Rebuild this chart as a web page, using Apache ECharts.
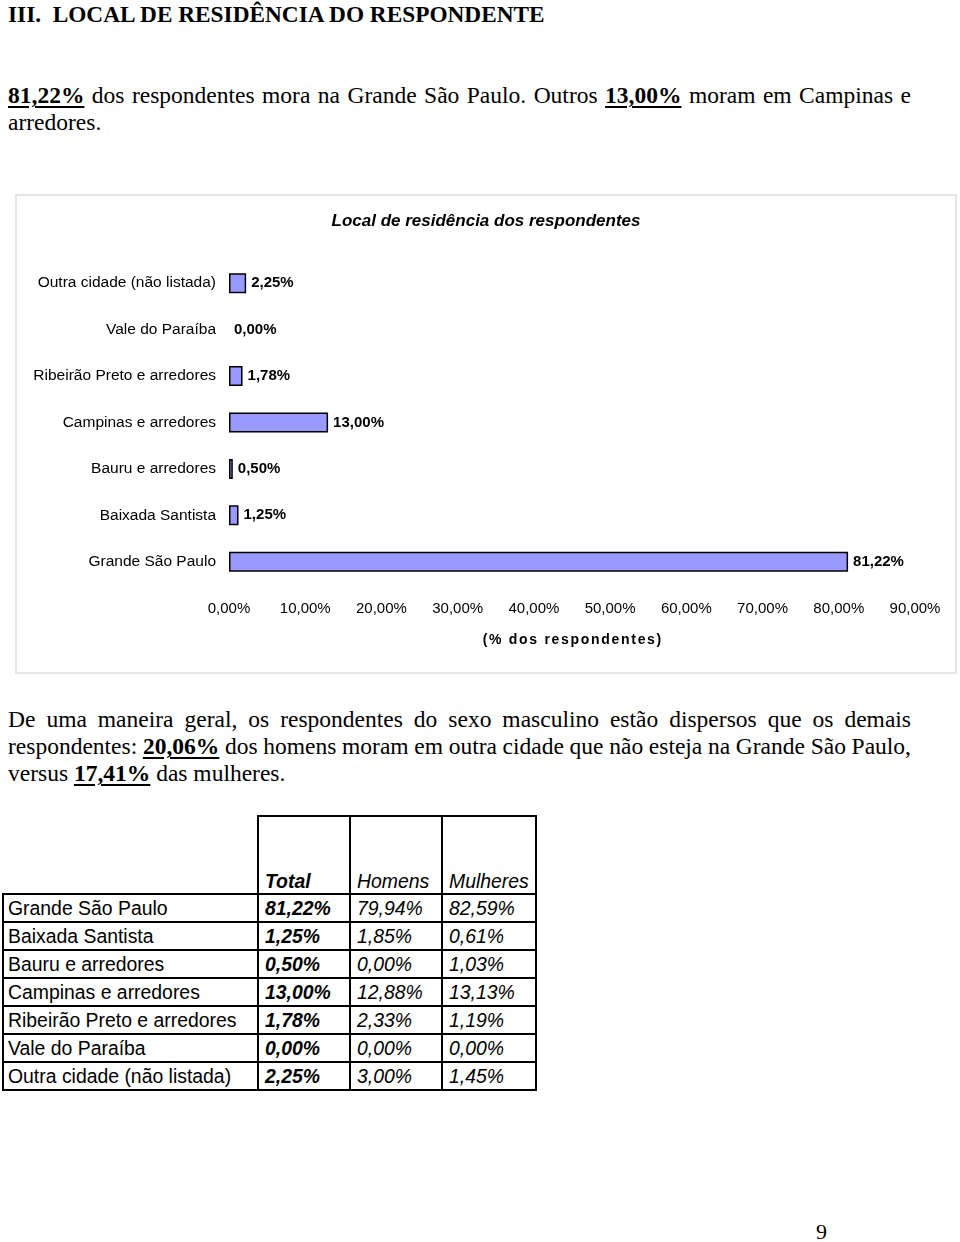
<!DOCTYPE html>
<html>
<head>
<meta charset="utf-8">
<script src="https://cdn.jsdelivr.net/npm/echarts@6/dist/echarts.min.js"></script>
<style>
  html, body { margin: 0; padding: 0; background: #fff; }
  body { width: 960px; height: 1242px; position: relative; overflow: hidden; }
  .serif { font-family: "Liberation Serif", "Times New Roman", serif; color: #000; }
  #h1 { position: absolute; left: 8px; top: 1px; font-size: 23.3px; font-weight: bold; line-height: 27px; white-space: pre; }
  .para { position: absolute; left: 8px; width: 903px; font-size: 23.5px; line-height: 27px; }
  .j { text-align: justify; text-align-last: justify; white-space: nowrap; }
  .para b { text-decoration: underline; text-underline-offset: 3px; }
  #p1 { top: 82px; }
  #p2 { top: 706px; }
  #box { position: absolute; left: 15px; top: 194px; width: 938px; height: 476px; border: 2px solid #e6e6e6; }
  #chart { width: 938px; height: 476px; }
  #tbl { position: absolute; left: 2px; top: 815px; border-collapse: collapse; font-family: "Liberation Sans", Arial, sans-serif; font-size: 19.4px; color: #000; }
  #tbl td { border: 2px solid #000; height: 26px; line-height: 26px; white-space: nowrap; overflow: hidden; }
  #tbl tr.hd td { height: 76px; vertical-align: bottom; line-height: 24px; font-style: italic; }
  #tbl tr.hd td.blank { border-top: none; border-left: none; }
  #tbl td.c0 { width: 245px; padding: 0 4px 0 4px; }
  #tbl td.c1 { width: 82px; padding: 0 2px 0 6px; font-weight: bold; font-style: italic; }
  #tbl td.c2 { width: 82px; padding: 0 2px 0 6px; font-style: italic; }
  #tbl td.c3 { width: 84px; padding: 0 2px 0 6px; font-style: italic; }
  #pg { position: absolute; left: 816px; top: 1218px; font-size: 22px; line-height: 27px; }
</style>
</head>
<body>
<div id="h1" class="serif">III.  LOCAL DE RESIDÊNCIA DO RESPONDENTE</div>
<div id="p1" class="para serif">
  <div class="j"><b>81,22%</b> dos respondentes mora na Grande São Paulo. Outros <b>13,00%</b> moram em Campinas e</div>
  <div>arredores.</div>
</div>
<div id="box"><div id="chart"></div></div>
<div id="p2" class="para serif">
  <div class="j">De uma maneira geral, os respondentes do sexo masculino estão dispersos que os demais</div>
  <div class="j">respondentes: <b>20,06%</b> dos homens moram em outra cidade que não esteja na Grande São Paulo,</div>
  <div>versus <b>17,41%</b> das mulheres.</div>
</div>
<table id="tbl"></table>
<div id="pg" class="serif">9</div>
<script>
// ---- data ----
var categories = ["Grande São Paulo", "Baixada Santista", "Bauru e arredores", "Campinas e arredores", "Ribeirão Preto e arredores", "Vale do Paraíba", "Outra cidade (não listada)"];
var totalValues = [81.22, 1.25, 0.50, 13.00, 1.78, 0.00, 2.25];
var homensValues = [79.94, 1.85, 0.00, 12.88, 2.33, 0.00, 3.00];
var mulheresValues = [82.59, 0.61, 1.03, 13.13, 1.19, 0.00, 1.45];
var tableHeaders = ["Total", "Homens", "Mulheres"];
var chartTitle = "Local de residência dos respondentes";
var xAxisName = "(% dos respondentes)";

function pct(v) { return Number(v).toFixed(2).replace('.', ',') + '%'; }

// ---- fit justified lines that are naturally wider than the column ----
(function () {
  var lines = document.querySelectorAll('.j');
  for (var i = 0; i < lines.length; i++) {
    var el = lines[i];
    var probe = document.createElement('span');
    probe.innerHTML = el.innerHTML;
    probe.style.whiteSpace = 'nowrap';
    probe.style.visibility = 'hidden';
    probe.style.position = 'absolute';
    el.parentNode.appendChild(probe);
    var w = probe.getBoundingClientRect().width;
    el.parentNode.removeChild(probe);
    var target = el.getBoundingClientRect().width;
    if (w > target) {
      var spaces = (el.textContent.trim().match(/ +/g) || []).length || 1;
      el.style.wordSpacing = (-(w - target) / spaces - 0.2) + 'px';
    }
  }
})();

// ---- table ----
(function () {
  var t = document.getElementById('tbl');
  var h = '<tr class="hd"><td class="c0 blank"></td>';
  h += '<td class="c1">' + tableHeaders[0] + '</td><td class="c2">' + tableHeaders[1] + '</td><td class="c3">' + tableHeaders[2] + '</td></tr>';
  for (var i = 0; i < categories.length; i++) {
    h += '<tr><td class="c0">' + categories[i] + '</td><td class="c1">' + pct(totalValues[i]) + '</td><td class="c2">' + pct(homensValues[i]) + '</td><td class="c3">' + pct(mulheresValues[i]) + '</td></tr>';
  }
  t.innerHTML = h;
})();

// ---- chart ----
var chart = echarts.init(document.getElementById('chart'), null, { renderer: 'canvas' });
var F = '"Liberation Sans", Arial, sans-serif';
var spacedName = xAxisName.split('').map(function (ch) { return '{c|' + ch + '}'; }).join('');
chart.setOption({
  animation: false,
  backgroundColor: '#fff',
  title: {
    text: chartTitle, left: 'center', top: 12,
    textStyle: { fontFamily: F, fontSize: 17, fontWeight: 'bold', fontStyle: 'italic', color: '#000' }
  },
  grid: { left: 212, top: 64, width: 686, height: 325, containLabel: false },
  xAxis: {
    type: 'value', min: 0, max: 90, interval: 10,
    name: spacedName, nameLocation: 'middle', nameGap: 48,
    nameTextStyle: {
      fontFamily: F, fontSize: 14, fontWeight: 'bold', color: '#000',
      rich: { c: { fontFamily: F, fontSize: 14, fontWeight: 'bold', color: '#000', padding: [0, 0.85, 0, 0.85] } }
    },
    axisLine: { show: false }, axisTick: { show: false }, splitLine: { show: false },
    axisLabel: { fontFamily: F, fontSize: 15, color: '#000', margin: 16, formatter: function (v) { return pct(v); } }
  },
  yAxis: {
    type: 'category', data: categories,
    axisLine: { show: false }, axisTick: { show: false },
    axisLabel: { fontFamily: F, fontSize: 15.5, color: '#000', margin: 13 }
  },
  series: [{
    type: 'bar', barWidth: 20,
    data: totalValues.map(function (v) {
      return v === 0 ? { value: v, itemStyle: { borderWidth: 0 } } : v;
    }),
    itemStyle: { color: '#9999FF', borderColor: '#000', borderWidth: 1.5 },
    label: { show: true, position: 'right', distance: 5, fontFamily: F, fontSize: 15, fontWeight: 'bold', color: '#000', formatter: function (p) { return pct(p.value); } }
  }]
});
</script>
</body>
</html>
